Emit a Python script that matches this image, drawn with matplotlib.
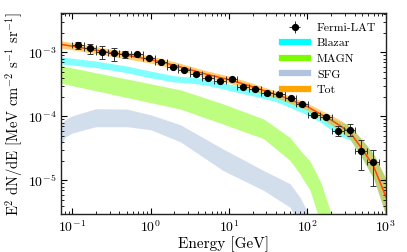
import numpy as np
import matplotlib
matplotlib.use("Agg")
import matplotlib.pyplot as plt
from matplotlib.lines import Line2D

plt.rcParams['font.family'] = 'serif'
plt.rcParams['font.serif'] = ['cmr10']
plt.rcParams['mathtext.fontset'] = 'cm'
plt.rcParams['axes.formatter.use_mathtext'] = True

# Fermi-LAT data: energy bin edges [GeV], E^2 dN/dE and errors
bin_edges = np.array([0.1, 0.141, 0.2, 0.283, 0.4, 0.566, 0.8, 1.13, 1.6, 2.26,
                      3.2, 4.53, 6.4, 9.05, 12.8, 18.1, 25.6, 36.2, 51.2, 72.4,
                      102, 145, 205, 290, 410, 580, 820])
flux = np.array([1.30e-3, 1.15e-3, 1.02e-3, 0.965e-3, 0.94e-3, 0.94e-3, 0.816e-3,
                 0.70e-3, 0.60e-3, 0.537e-3, 0.454e-3, 0.398e-3, 0.361e-3, 0.379e-3,
                 0.292e-3, 0.265e-3, 0.230e-3, 0.224e-3, 0.194e-3, 0.155e-3,
                 1.07e-4, 0.99e-4, 0.60e-4, 0.62e-4, 0.285e-4, 0.193e-4])
flux_err = np.array([0.17e-3, 0.21e-3, 0.22e-3, 0.22e-3, 0.11e-3, 0.05e-3, 0.04e-3,
                     0.03e-3, 0.03e-3, 0.03e-3, 0.025e-3, 0.02e-3, 0.02e-3, 0.02e-3,
                     0.015e-3, 0.015e-3, 0.012e-3, 0.012e-3, 0.01e-3, 0.009e-3,
                     0.08e-4, 0.08e-4, 0.11e-4, 0.13e-4, 0.14e-4, 0.11e-4])

# Blazar band
blz_E = [0.072, 0.2, 0.5, 1, 2, 3, 5, 10, 20, 40, 90, 150, 200, 250, 350, 500, 700, 1000]
blz_lo = [6.6e-4, 5.8e-4, 4.8e-4, 4.0e-4, 3.45e-4, 3.35e-4, 3.1e-4, 2.55e-4, 2.1e-4,
          1.7e-4, 1.12e-4, 8.0e-5, 6.2e-5, 5.0e-5, 4.3e-5, 2.2e-5, 1.05e-5, 2.9e-6]
blz_hi = [8.5e-4, 7.3e-4, 6.1e-4, 5.1e-4, 4.3e-4, 4.15e-4, 3.9e-4, 3.2e-4, 2.65e-4,
          2.15e-4, 1.45e-4, 1.08e-4, 9.5e-5, 8.5e-5, 7.0e-5, 4.3e-5, 2.6e-5, 1.07e-5]

# MAGN band
magn_E = [0.072, 0.3, 1, 2.4, 8.4, 27.6, 60, 80, 108, 150, 210]
magn_lo = [3.3e-4, 2.26e-4, 1.64e-4, 1.3e-4, 7.6e-5, 4.5e-5, 2.05e-5, 1.27e-5, 7.0e-6,
           2.0e-6, 1.0e-6]
magn_hi = [6.2e-4, 4.35e-4, 3.23e-4, 2.6e-4, 1.57e-4, 9.1e-5, 4.7e-5, 3.0e-5, 2.0e-5,
           9.0e-6, 2.5e-6]

# SFG band
sfg_E = [0.072, 0.08, 0.1, 0.2, 0.5, 1, 2.4, 8.4, 27.6, 60, 80, 110]
sfg_lo = [3.5e-5, 4.7e-5, 5.5e-5, 6.9e-5, 6.9e-5, 6.2e-5, 4.0e-5, 1.43e-5, 7.0e-6,
          3.8e-6, 2.0e-6, 1.0e-6]
sfg_hi = [7.5e-5, 8.8e-5, 1.02e-4, 1.32e-4, 1.3e-4, 1.06e-4, 7.4e-5, 3.1e-5, 1.43e-5,
          8.9e-6, 5.5e-6, 2.6e-6]

# Total band and best fit
tot_E = [0.072, 0.1, 0.2, 0.5, 1, 2, 5, 10, 20, 50, 100, 150, 200, 250, 350, 500, 700, 1000]
tot_mid = [1.33e-3, 1.25e-3, 1.08e-3, 0.90e-3, 0.77e-3, 0.63e-3, 0.46e-3, 0.375e-3,
           0.29e-3, 0.20e-3, 0.142e-3, 0.107e-3, 0.088e-3, 0.074e-3, 0.056e-3,
           0.031e-3, 0.0165e-3, 0.0056e-3]
tot_lo = [1.17e-3, 1.10e-3, 0.95e-3, 0.79e-3, 0.68e-3, 0.555e-3, 0.405e-3, 0.33e-3,
          0.255e-3, 0.176e-3, 0.125e-3, 0.092e-3, 0.074e-3, 0.061e-3, 0.0445e-3,
          0.0225e-3, 0.0107e-3, 0.0029e-3]
tot_hi = [1.51e-3, 1.42e-3, 1.23e-3, 1.02e-3, 0.875e-3, 0.715e-3, 0.522e-3, 0.426e-3,
          0.33e-3, 0.227e-3, 0.161e-3, 0.124e-3, 0.105e-3, 0.090e-3, 0.0705e-3,
          0.0428e-3, 0.0256e-3, 0.0107e-3]

e_lo = bin_edges[:-1]
e_hi = bin_edges[1:]
e_c = np.sqrt(e_lo * e_hi)

fig = plt.figure(figsize=(4.07, 2.52), dpi=100)
ax = fig.add_axes([0.150, 0.151, 0.798, 0.797])

ax.fill_between(sfg_E, sfg_lo, sfg_hi, color='#b0c4de', alpha=0.55, lw=0)
ax.fill_between(magn_E, magn_lo, magn_hi, color='#7cfc00', alpha=0.5, lw=0)
ax.fill_between(blz_E, blz_lo, blz_hi, color='cyan', alpha=0.5, lw=0)
ax.fill_between(tot_E, tot_lo, tot_hi, color='orange', alpha=0.55, lw=0)
ax.plot(tot_E, tot_mid, color='#ff4500', lw=1.1)
ax.errorbar(e_c, flux, yerr=flux_err, xerr=[e_c - e_lo, e_hi - e_c], fmt='o',
            color='black', ecolor='#333333', elinewidth=0.7, capsize=2,
            capthick=0.7, markersize=4.2)

ax.set_xscale('log')
ax.set_yscale('log')
ax.set_xlim(0.072, 1000)
ax.set_ylim(3e-6, 4.1e-3)
ax.set_xlabel('Energy [GeV]', fontsize=11, labelpad=1)
ax.set_ylabel(r'E$^2$ dN/dE [MeV cm$^{-2}$ s$^{-1}$ sr$^{-1}$]', fontsize=10.5, labelpad=2)

ax.tick_params(which='both', direction='in', top=True, right=True, labelsize=10)
ax.tick_params(which='major', length=4, width=0.8)
ax.tick_params(which='minor', length=2, width=0.6)
for s in ax.spines.values():
    s.set_linewidth(1.0)
    s.set_color('#222222')

fermi_h = ax.errorbar([], [], yerr=[], xerr=[], fmt='o', color='black',
                      ecolor='#333333', elinewidth=0.7, capsize=2, markersize=4.2)
handles = [
    fermi_h,
    Line2D([], [], color='cyan', lw=4.5),
    Line2D([], [], color='#7cfc00', lw=4.5),
    Line2D([], [], color='#b0c4de', lw=4.5),
    Line2D([], [], color='orange', lw=4.5),
]
labels = ['Fermi-LAT', 'Blazar', 'MAGN', 'SFG', 'Tot']
ax.legend(handles, labels, loc='upper right', frameon=False, fontsize=8.5,
          handlelength=2.2, labelspacing=0.45, borderaxespad=0.4)

fig.savefig('out.png', dpi=100)
